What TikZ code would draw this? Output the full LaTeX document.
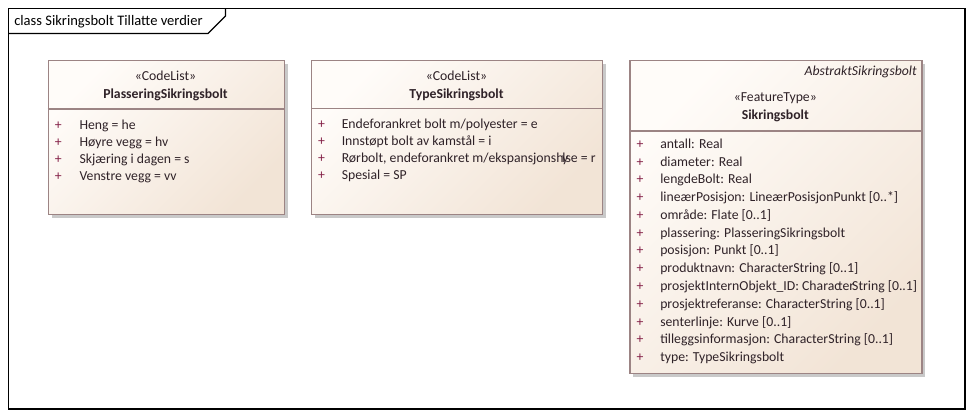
\documentclass[tikz,border=0pt]{standalone}
\usepackage{fontspec}
\setmainfont{Carlito}
\usetikzlibrary{shadows}
\definecolor{boxborder}{HTML}{9C8484}
\definecolor{boxlight}{HTML}{FFFCF9}
\definecolor{boxdark}{HTML}{F2E4D6}
\definecolor{shadowgray}{HTML}{C9C9C9}
\definecolor{textcol}{HTML}{2F2228}
\definecolor{pluscol}{HTML}{842047}
\begin{document}
\begin{tikzpicture}[x=0.75pt,y=-0.75pt,
  umlbox/.style={draw=boxborder, line width=0.9pt, top color=boxlight, bottom color=boxdark, shading angle=45,
    general shadow={fill=shadowgray, shadow xshift=2.6pt, shadow yshift=-2.6pt},
    anchor=north west, inner sep=0pt},
  sepline/.style={draw=boxborder, line width=0.9pt},
  stereo/.style={font=\fontsize{10.3}{12}\selectfont, text=textcol, anchor=base, inner sep=0pt},
  cname/.style={font=\fontsize{10.3}{12}\selectfont\bfseries, text=textcol, anchor=base, inner sep=0pt},
  absname/.style={font=\fontsize{10.3}{12}\selectfont\itshape, text=textcol, anchor=base east, inner sep=0pt},
  attr/.style={font=\fontsize{10.3}{12}\selectfont, text=textcol, anchor=base west, inner sep=0pt},
  plus/.style={font=\fontsize{10.3}{12}\selectfont, text=pluscol, anchor=base, inner sep=0pt},
  frame/.style={draw=black, line width=1pt},
  titletext/.style={font=\fontsize{10.9}{13}\selectfont, text=black, anchor=base west, inner sep=0pt}
]
\useasboundingbox[fill=white] (0,0) rectangle (973,418);

% outer frame
\coordinate (f1) at (8.5,8.5);
\coordinate (f2) at (965,409);
\draw[frame] (f1) rectangle (f2);
\coordinate (t1) at (8.5,33.5);
\coordinate (t2) at (208,33.5);
\coordinate (t3) at (225.5,16);
\coordinate (t4) at (225.5,8.5);
\draw[frame] (t1) -- (t2) -- (t3) -- (t4);
\node[titletext] (title) at (14,25.5) {class Sikringsbolt Tillatte verdier};

% box 1
\node[umlbox, minimum width=177pt, minimum height=115.5pt] (b1) at (47.5,59.5) {};
\coordinate (b1s) at (47.5,109);
\draw[sepline] (b1s) -- ++(236,0);
\node[stereo] (b1st) at (165.5,80) {«CodeList»};
\node[cname] (b1nm) at (165.5,98) {PlasseringSikringsbolt};
\foreach \i/\t in {0/{Heng = he},1/{Høyre vegg = hv},2/{Skjæring i dagen = s},3/{Venstre vegg = vv}}{
  \node[plus] (b1p\i) at (58.3,129+17*\i) {+};
  \node[attr] (b1a\i) at (79.3,129+17*\i) {\t};
}

% box 2
\node[umlbox, minimum width=218.25pt, minimum height=115.5pt] (b2) at (311,59.5) {};
\coordinate (b2s) at (311,108.5);
\draw[sepline] (b2s) -- ++(291,0);
\node[stereo] (b2st) at (456.5,80) {«CodeList»};
\node[cname] (b2nm) at (456.5,98) {TypeSikringsbolt};
\foreach \i/\t in {0/{Endeforankret bolt m/polyester = e},1/{Innstøpt bolt av kamstål = i},2/{Rørbolt, endeforankret m/ekspansjonsh\kern-1pt y\kern-4.5pt lse = r},3/{Spesial = SP}}{
  \node[plus] (b2p\i) at (321.5,128.3+17*\i) {+};
  \node[attr] (b2a\i) at (341.5,128.3+17*\i) {\t};
}

% box 3
\node[umlbox, minimum width=219pt, minimum height=235pt] (b3) at (629.3,59.5) {};
\coordinate (b3s) at (629.3,131);
\draw[sepline] (b3s) -- ++(292,0);
\node[absname] (b3ab) at (917,75.5) {AbstraktSikringsbolt};
\node[stereo] (b3st) at (775.3,101.5) {«FeatureType»};
\node[cname] (b3nm) at (775.3,119) {Sikringsbolt};
\foreach \i/\t in {0/{antall: Real},1/{diameter: Real},2/{lengdeBolt: Real},3/{lineærPosisjon: LineærPosisjonPunkt [0..*]},4/{område: Flate [0..1]},5/{plassering: PlasseringSikringsbolt},6/{posisjon: Punkt [0..1]},7/{produktnavn: CharacterString [0..1]},8/{prosjektInternObjekt\_ID: Charac\kern-1.5pt ter\kern-1.5pt String [0..1]},9/{prosjektreferanse: CharacterString [0..1]},10/{senterlinje: Kurve [0..1]},11/{tilleggsinformasjon: CharacterString [0..1]},12/{type: TypeSikringsbolt}}{
  \node[plus] (b3p\i) at (640,148.3+17.78*\i) {+};
  \node[attr] (b3a\i) at (660,148.3+17.78*\i) {\t};
}
\end{tikzpicture}
\end{document}
